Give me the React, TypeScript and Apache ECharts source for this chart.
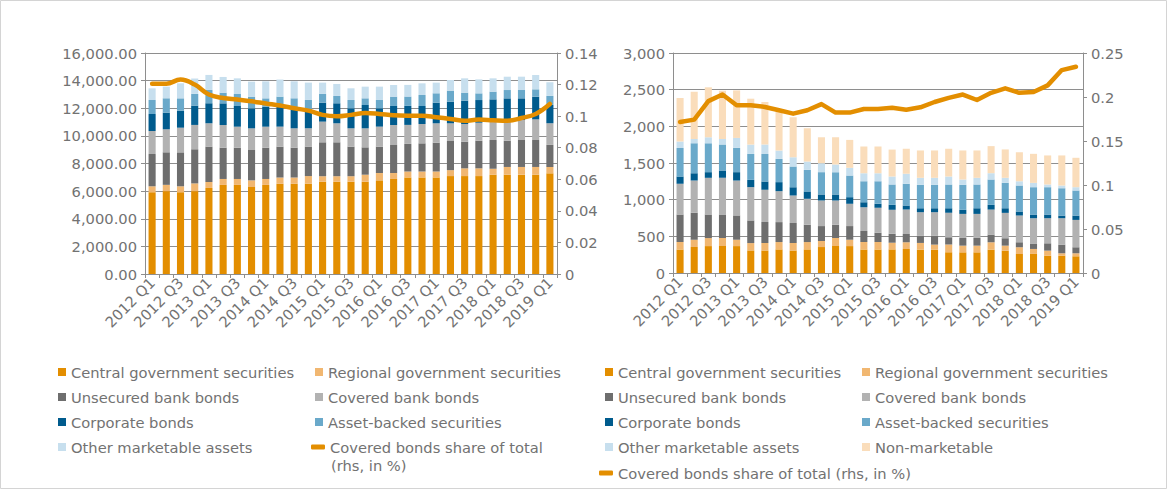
import React, { useEffect, useRef } from "react";
import * as echarts from "echarts";

const quarters = [
  "2012 Q1", "2012 Q2", "2012 Q3", "2012 Q4",
  "2013 Q1", "2013 Q2", "2013 Q3", "2013 Q4",
  "2014 Q1", "2014 Q2", "2014 Q3", "2014 Q4",
  "2015 Q1", "2015 Q2", "2015 Q3", "2015 Q4",
  "2016 Q1", "2016 Q2", "2016 Q3", "2016 Q4",
  "2017 Q1", "2017 Q2", "2017 Q3", "2017 Q4",
  "2018 Q1", "2018 Q2", "2018 Q3", "2018 Q4",
  "2019 Q1",
];

// Left panel: marketable assets (EUR bn)
const leftCentral = [5920, 6000, 5920, 6000, 6230, 6450, 6450, 6300, 6450, 6530, 6530, 6530, 6680, 6680, 6680, 6680, 6780, 6880, 6990, 6990, 6990, 7090, 7090, 7090, 7190, 7190, 7190, 7190, 7290];
const leftRegional = [430, 455, 430, 560, 430, 430, 430, 480, 430, 455, 455, 560, 400, 400, 400, 510, 530, 430, 430, 430, 430, 430, 560, 560, 430, 560, 560, 560, 455];
const leftUnsecured = [2336, 2356, 2457, 2471, 2563, 2264, 2264, 2196, 2264, 2235, 2163, 2133, 2455, 2455, 2140, 1980, 1910, 2030, 2000, 2040, 2090, 2110, 1930, 2000, 2080, 1900, 1950, 1950, 1600];
const leftCovered = [1666, 1666, 1786, 1762, 1690, 1641, 1521, 1569, 1521, 1449, 1400, 1328, 1497, 1376, 1328, 1376, 1449, 1448, 1375, 1400, 1400, 1279, 1279, 1303, 1328, 1376, 1449, 1497, 1569];
const leftCorporate = [1231, 1207, 1232, 1401, 1449, 1570, 1497, 1448, 1448, 1497, 1376, 1350, 1376, 1449, 1448, 1690, 1327, 1377, 1377, 1304, 1497, 1569, 1690, 1642, 1617, 1690, 1569, 1641, 1328];
const leftABS = [1014, 1038, 893, 845, 965, 772, 869, 845, 604, 675, 797, 700, 628, 531, 604, 483, 604, 675, 675, 796, 676, 797, 579, 483, 556, 603, 603, 532, 652];
const leftOther = [845, 844, 1086, 1114, 1085, 1138, 1134, 1088, 1230, 1238, 1230, 1255, 819, 868, 845, 844, 965, 845, 845, 844, 771, 771, 1038, 1012, 965, 965, 965, 1036, 989];
const leftShare = [0.1205, 0.1205, 0.1232, 0.12, 0.1137, 0.1115, 0.1105, 0.1094, 0.108, 0.1067, 0.105, 0.1035, 0.1008, 0.0999, 0.1008, 0.102, 0.1014, 0.1005, 0.1003, 0.1003, 0.0993, 0.0982, 0.0971, 0.0978, 0.0974, 0.0971, 0.0988, 0.1014, 0.1077];

// Right panel: collateral used (EUR bn)
const rightCentral = [322, 354, 367, 367, 367, 308, 308, 322, 308, 322, 354, 367, 367, 322, 322, 322, 328, 319, 319, 282, 282, 282, 319, 305, 260, 260, 237, 237, 228];
const rightRegional = [100, 100, 109, 109, 87, 100, 100, 100, 100, 100, 82, 109, 87, 100, 100, 91, 91, 91, 68, 105, 91, 91, 100, 68, 91, 68, 68, 32, 41];
const rightUnsecured = [376, 367, 322, 322, 331, 309, 286, 272, 273, 236, 204, 182, 186, 150, 127, 122, 114, 100, 123, 100, 105, 105, 105, 101, 68, 68, 100, 118, 82];
const rightCovered = [418, 440, 500, 500, 476, 454, 440, 422, 376, 354, 349, 331, 304, 326, 340, 327, 332, 319, 319, 333, 328, 328, 341, 346, 364, 351, 342, 360, 373];
const rightCorporate = [100, 100, 77, 99, 114, 99, 114, 123, 114, 100, 82, 82, 90, 68, 55, 68, 55, 54, 54, 63, 55, 77, 64, 63, 55, 50, 50, 36, 59];
const rightABS = [390, 408, 394, 354, 331, 354, 376, 317, 281, 294, 304, 304, 295, 286, 308, 277, 296, 319, 319, 324, 341, 324, 346, 346, 355, 373, 373, 373, 342];
const rightOther = [86, 59, 82, 77, 136, 127, 127, 114, 127, 114, 122, 104, 105, 109, 109, 109, 136, 96, 96, 109, 73, 91, 86, 69, 59, 59, 37, 37, 45];
const rightNonMarketable = [594, 645, 681, 658, 648, 626, 581, 530, 544, 454, 354, 372, 381, 363, 363, 367, 342, 373, 373, 378, 396, 373, 369, 387, 396, 396, 396, 410, 401];
const rightShare = [0.1716, 0.1743, 0.1953, 0.2029, 0.1906, 0.1906, 0.1887, 0.1849, 0.1811, 0.1849, 0.1919, 0.1823, 0.1823, 0.1864, 0.1864, 0.1878, 0.1855, 0.1883, 0.1943, 0.199, 0.2028, 0.1966, 0.2047, 0.2098, 0.2047, 0.2056, 0.2132, 0.2306, 0.2344];

const leftTicksMax = 16000;
const rightTicksMax = 3000;

const N_CENTRAL = "Central government securities";
const N_REGIONAL = "Regional government securities";
const N_UNSECURED = "Unsecured bank bonds";
const N_COVERED = "Covered bank bonds";
const N_CORPORATE = "Corporate bonds";
const N_ABS = "Asset-backed securities";
const N_OTHER = "Other marketable assets";
const N_NONMKT = "Non-marketable";
const N_LINE = "Covered bonds share of total (rhs, in %)";

const C = {
  central: "#E38E00",
  regional: "#F1B771",
  unsecured: "#6E6E6E",
  covered: "#B2B2B2",
  corporate: "#005B8D",
  abs: "#6AA9CA",
  other: "#C7DFEE",
  nonmkt: "#FADDBB",
  line: "#E38E00",
};

const FONT = '"DejaVu Sans", Verdana, sans-serif';
const FS = 14.7;
const TEXT = "#727272";
const AXIS = "#8e8e8e";

function bar(name: string, data: number[], color: string, idx: number) {
  return {
    name,
    type: "bar",
    stack: "s" + idx,
    xAxisIndex: idx,
    yAxisIndex: idx * 2,
    data,
    barWidth: "50%",
    itemStyle: { color },
    emphasis: { disabled: true },
  };
}

function line(data: number[], idx: number, smooth: number | boolean) {
  return {
    name: N_LINE,
    type: "line",
    xAxisIndex: idx,
    yAxisIndex: idx * 2 + 1,
    data,
    smooth,
    symbol: "none",
    lineStyle: { width: 4.5, color: C.line, cap: "round", join: "round" },
    itemStyle: { color: C.line },
    z: 5,
    emphasis: { disabled: true },
  };
}

function xAxis(gridIndex: number) {
  return {
    type: "category",
    gridIndex,
    data: quarters,
    axisLine: { lineStyle: { color: AXIS } },
    axisTick: { show: true, interval: 0, length: 4, lineStyle: { color: AXIS } },
    axisLabel: { interval: 1, rotate: 45, color: TEXT, fontSize: FS, fontFamily: FONT, margin: 6 },
  };
}

function yLeft(gridIndex: number, max: number, interval: number, fmt: (v: number) => string) {
  return {
    type: "value",
    gridIndex,
    position: "left",
    min: 0,
    max,
    interval,
    axisLine: { show: true, lineStyle: { color: AXIS } },
    axisTick: { show: true, length: 4, lineStyle: { color: AXIS } },
    splitLine: { show: true, lineStyle: { color: AXIS, width: 1 } },
    axisLabel: { formatter: fmt, color: TEXT, fontSize: FS, fontFamily: FONT, margin: 8 },
  };
}

function yRight(gridIndex: number, max: number, interval: number) {
  return {
    type: "value",
    gridIndex,
    position: "right",
    min: 0,
    max,
    interval,
    axisLine: { show: true, lineStyle: { color: AXIS } },
    axisTick: { show: true, length: 4, lineStyle: { color: AXIS } },
    splitLine: { show: false },
    axisLabel: {
      formatter: (v: number) => String(parseFloat(v.toFixed(3))),
      color: TEXT,
      fontSize: FS,
      fontFamily: FONT,
      margin: 8,
    },
  };
}

const legendText = { fontSize: FS, color: TEXT, fontFamily: FONT, lineHeight: 20 };

function legend(left: number, top: number, data: string[], gap = 8) {
  return {
    orient: "vertical",
    left,
    top,
    padding: 0,
    itemGap: 5,
    itemWidth: 8,
    itemHeight: 8,
    itemTextGap: gap,
    icon: "rect",
    selectedMode: false,
    textStyle: legendText,
    data,
  };
}

export default function App() {
  const ref = useRef<HTMLDivElement>(null);
  useEffect(() => {
    if (!ref.current) return;
    const chart = echarts.init(ref.current, undefined, { renderer: "svg" });
    const option = {
      animation: false,
      backgroundColor: "#ffffff",
      grid: [
        { left: 145, right: 610, top: 53, bottom: 215 },
        { left: 673, right: 84, top: 53, bottom: 216 },
      ],
      xAxis: [xAxis(0), xAxis(1)],
      yAxis: [
        yLeft(0, leftTicksMax, 2000, (v: number) =>
          v.toLocaleString("en-US", { minimumFractionDigits: 2, maximumFractionDigits: 2 })
        ),
        yRight(0, 0.14, 0.02),
        yLeft(1, rightTicksMax, 500, (v: number) => v.toLocaleString("en-US")),
        yRight(1, 0.25, 0.05),
      ],
      legend: [
        legend(58, 362, [N_CENTRAL, N_UNSECURED, N_CORPORATE, N_OTHER]),
        legend(315, 362, [N_REGIONAL, N_COVERED, N_ABS]),
        {
          ...legend(311, 437, [N_LINE], 6),
          itemWidth: 14,
          itemHeight: 5,
          icon: "roundRect",
          formatter: () => "Covered bonds share of total",
        },
        legend(605, 362, [N_CENTRAL, N_UNSECURED, N_CORPORATE, N_OTHER], 7),
        legend(862, 362, [N_REGIONAL, N_COVERED, N_ABS, N_NONMKT], 7),
        {
          ...legend(599, 463, [N_LINE], 6),
          itemWidth: 14,
          itemHeight: 5,
          icon: "roundRect",
        },
      ],
      graphic: [
        {
          type: "rect",
          shape: { x: 0.5, y: 0.5, width: 1166, height: 488 },
          style: { fill: "none", stroke: "#d4d4d4", lineWidth: 1 },
          silent: true,
        },
        {
          type: "text",
          left: 331,
          top: 458,
          style: { text: "(rhs, in %)", fill: TEXT, fontSize: FS, fontFamily: FONT },
          silent: true,
        },
      ],
      series: [
        bar(N_CENTRAL, leftCentral, C.central, 0),
        bar(N_REGIONAL, leftRegional, C.regional, 0),
        bar(N_UNSECURED, leftUnsecured, C.unsecured, 0),
        bar(N_COVERED, leftCovered, C.covered, 0),
        bar(N_CORPORATE, leftCorporate, C.corporate, 0),
        bar(N_ABS, leftABS, C.abs, 0),
        bar(N_OTHER, leftOther, C.other, 0),
        line(leftShare, 0, 0.4),
        bar(N_CENTRAL, rightCentral, C.central, 1),
        bar(N_REGIONAL, rightRegional, C.regional, 1),
        bar(N_UNSECURED, rightUnsecured, C.unsecured, 1),
        bar(N_COVERED, rightCovered, C.covered, 1),
        bar(N_CORPORATE, rightCorporate, C.corporate, 1),
        bar(N_ABS, rightABS, C.abs, 1),
        bar(N_OTHER, rightOther, C.other, 1),
        bar(N_NONMKT, rightNonMarketable, C.nonmkt, 1),
        line(rightShare, 1, false),
      ],
    };
    chart.setOption(option as any);
    return () => chart.dispose();
  }, []);
  return (
    <div
      ref={ref}
      style={{ position: "absolute", left: 0, top: 0, width: 1167, height: 489 }}
    />
  );
}
